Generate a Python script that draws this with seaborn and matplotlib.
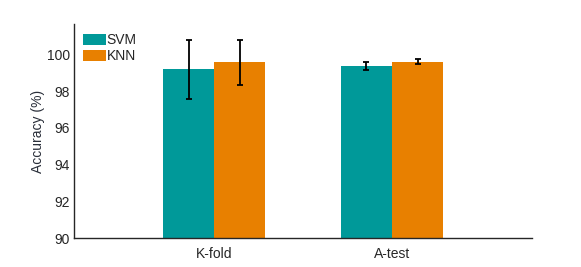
import numpy as np
import pandas as pd
import matplotlib
matplotlib.use("Agg")
import matplotlib.pyplot as plt
import seaborn as sns

# 数据
methods = ["K-fold", "A-test"]
models = ["SVM", "KNN"]
svm_acc = [99.18, 99.37]
knn_acc = [99.57, 99.60]
svm_err = [1.60, 0.21]
knn_err = [1.22, 0.13]
colors = ["#009999", "#E88000"]

df = pd.DataFrame({
    "method": methods * 2,
    "model": ["SVM"] * 2 + ["KNN"] * 2,
    "acc": svm_acc + knn_acc,
    "err": svm_err + knn_err,
})

sns.set_style("white")
plt.rcParams['font.family'] = ['Liberation Sans', 'DejaVu Sans']

fig = plt.figure(figsize=(5.81, 2.67), dpi=100)
ax = fig.add_axes([0.1274, 0.1075, 0.7883, 0.8025])

sns.barplot(data=df, x="method", y="acc", hue="model", order=methods,
            hue_order=models, palette=colors, width=0.574, errorbar=None,
            saturation=1, ax=ax, linewidth=0)

# 误差棒
for bars, model in zip(ax.containers, models):
    sub = df[df["model"] == model].set_index("method").loc[methods]
    xs = [b.get_x() + b.get_width() / 2 for b in bars]
    ax.errorbar(xs, sub["acc"], yerr=sub["err"], fmt="none", ecolor="black",
                elinewidth=1.3, capsize=2.2, capthick=1.3)

ax.set_ylim(90, 101.65)
ax.set_xlim(-0.787, 1.787)
ax.set_yticks([90, 92, 94, 96, 98, 100])
ax.set_xlabel("")
ax.set_ylabel("Accuracy (%)", fontsize=10, color="#2a2f3a", labelpad=1)
ax.tick_params(axis="y", labelsize=10, colors="#262626", length=0, pad=3)
ax.tick_params(axis="x", labelsize=10, colors="#262626", direction="in",
               length=2.5, width=0.8, pad=6)
for s in ["top", "right"]:
    ax.spines[s].set_visible(False)
for s in ["left", "bottom"]:
    ax.spines[s].set_color("#262626")
    ax.spines[s].set_linewidth(1.0)

ax.legend(loc="upper left", frameon=False, fontsize=10, handlelength=1.65,
          handleheight=0.8, handletextpad=0.05, labelspacing=0.15,
          borderaxespad=0.45, borderpad=0.2)

fig.savefig("out.png", dpi=100)
